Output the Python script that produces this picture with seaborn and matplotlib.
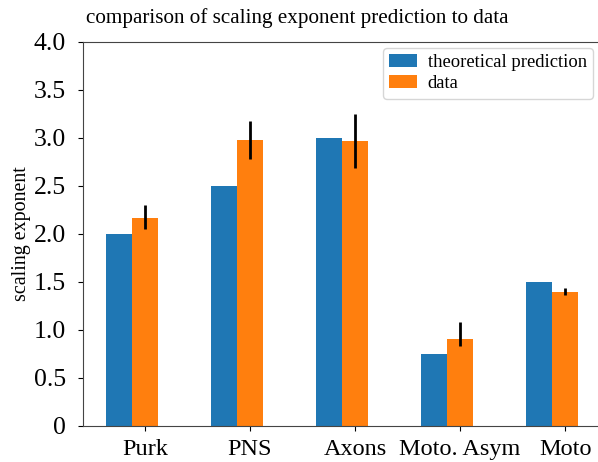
import matplotlib
matplotlib.use("Agg")
import matplotlib.pyplot as plt
import seaborn as sns
import numpy as np
import pandas as pd

# ============================================
# Data
# ============================================
CATEGORIES = ['Purk', 'PNS', 'Axons', 'Moto. Asym', 'Moto']
THEORY = [2.0, 2.5, 3.0, 0.75, 1.5]
DATA = [2.17, 2.98, 2.97, 0.91, 1.40]
ERR_LOW = [0.12, 0.20, 0.28, 0.08, 0.04]
ERR_HIGH = [0.13, 0.20, 0.28, 0.17, 0.04]
SERIES = ['theoretical prediction', 'data']

COLORS = ['#1f77b4', '#ff7f0e']
Y_TICKS = [0, 0.5, 1.0, 1.5, 2.0, 2.5, 3.0, 3.5, 4.0]
Y_TICK_LABELS = ['0', '0.5', '1.0', '1.5', '2.0', '2.5', '3.0', '3.5', '4.0']

plt.rcParams['font.family'] = ['Liberation Serif', 'DejaVu Serif']

# long-form table for seaborn
df = pd.DataFrame({
    'category': CATEGORIES * 2,
    'series': [SERIES[0]] * len(CATEGORIES) + [SERIES[1]] * len(CATEGORIES),
    'value': THEORY + DATA,
})

fig = plt.figure(figsize=(5.98, 4.62), dpi=100)
ax = fig.add_axes([83 / 598, 36 / 462, 519 / 598, 384 / 462])

sns.barplot(
    data=df, x='category', y='value', hue='series',
    order=CATEGORIES, hue_order=SERIES, palette=COLORS,
    width=0.5, saturation=1, errorbar=None,
    edgecolor='none', ax=ax
)

# error bars on the data bars (right of each pair)
pos = np.arange(len(CATEGORIES)) + 0.125
ax.errorbar(pos, DATA, yerr=[ERR_LOW, ERR_HIGH], fmt='none',
            ecolor='black', elinewidth=2.0, capsize=0, zorder=5)

ax.set_xticks(pos)
ax.set_xticklabels(CATEGORIES, fontsize=17.5)
ax.set_yticks(Y_TICKS)
ax.set_yticklabels(Y_TICK_LABELS, fontsize=18.5)
ax.tick_params(axis='y', pad=9)
ax.tick_params(axis='x', pad=6)
ax.set_ylim(0, 4.0)
ax.set_xlim(-0.465, 4.477)

ax.set_xlabel('')
ax.set_ylabel('scaling exponent', fontsize=14.4, labelpad=2)
fig.text(297 / 598, 1 - 18 / 462,
         'comparison of scaling exponent prediction to data',
         fontsize=15.2, ha='center', va='center')

for s in ax.spines.values():
    s.set_color('#444444')

handles, labels = ax.get_legend_handles_labels()
ax.legend(handles, labels, loc='upper right', fontsize=13.4,
          bbox_to_anchor=(0.992, 0.997), borderaxespad=0.25,
          handlelength=1.5, handletextpad=0.55,
          labelspacing=0.2, borderpad=0.35)

fig.savefig('out.png', dpi=100)
